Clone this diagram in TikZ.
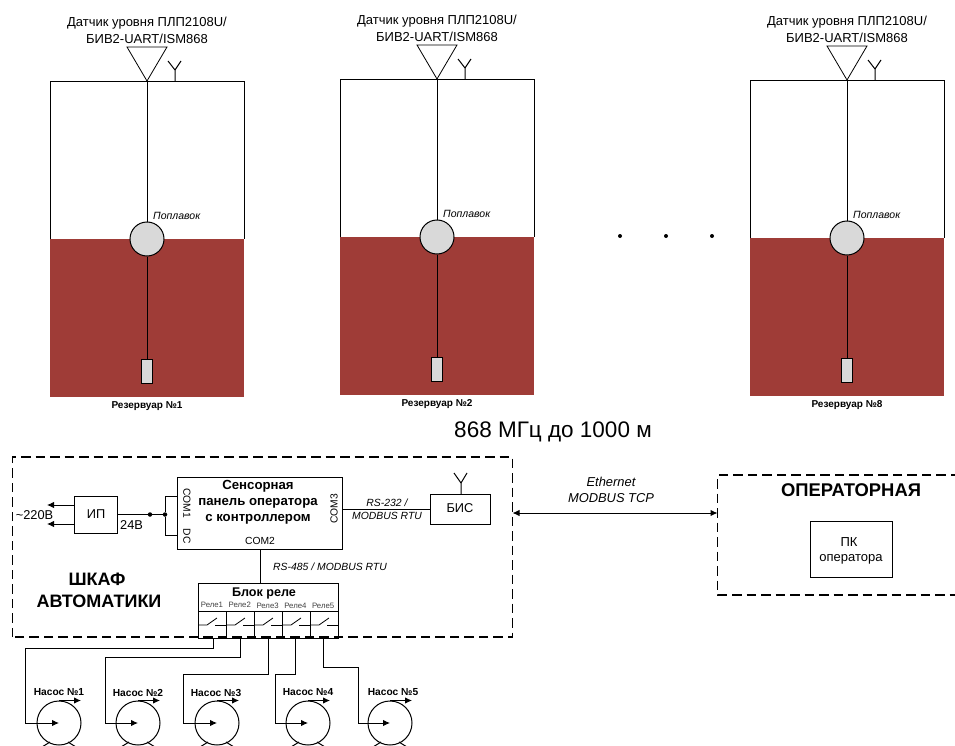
\documentclass[tikz,border=0pt]{standalone}
\usepackage{fontspec}
\setmainfont{Liberation Sans}
\usetikzlibrary{calc,arrows.meta}
\definecolor{liquid}{HTML}{9F3C37}
\definecolor{floatgray}{HTML}{D9D9D9}
\tikzset{
  box/.style={draw, line width=1.2pt, inner sep=0pt, anchor=north west},
  zone/.style={draw, line width=1.2pt, dash pattern=on 9.5pt off 5pt},
  thin wire/.style={line width=0.8pt},
  wire/.style={line width=1pt},
  tip/.style={-{Latex[length=7pt,width=6.5pt]}},
  pump/.style={draw, circle, line width=1pt, minimum size=44pt, inner sep=0pt},
  dot/.style={fill, circle, minimum size=4.5pt, inner sep=0pt},
  lab/.style={font=\fontsize{#1}{#1}\selectfont, inner sep=0pt},
  italab/.style={font=\fontsize{#1}{#1}\selectfont\itshape, inner sep=0pt},
  boldlab/.style={font=\fontsize{#1}{#1}\selectfont\bfseries, inner sep=0pt}
}
\begin{document}
\begin{tikzpicture}[x=1pt,y=-1pt]
  \useasboundingbox (0,0) rectangle (955,746);
  \clip (0,0) rectangle (955,746);
  % Tanks
  \foreach \x/\y/\n in {50/81/1, 340/79/2, 750/80/8} {
    \begin{scope}[shift={(\x,\y)}]
      \fill[liquid] (0,158) rectangle (194,316);
      \draw[thin wire] (0,158) -- (0,0) -- (194,0) -- (194,158);
      \coordinate (top\n) at (97,0);
      \coordinate (tipl\n) at (77,-34);
      \coordinate (tipr\n) at (117,-34);
      \coordinate (ant\n) at (125,0);
      \coordinate (antm\n) at (125,-11);
      \node[draw, circle, fill=floatgray, line width=1pt, minimum size=34pt, inner sep=0pt] (float\n) at (97,158) {};
      \node[draw, fill=floatgray, line width=0.8pt, minimum width=11pt, minimum height=24pt, inner sep=0pt] (probe\n) at (97,290) {};
      \draw[thin wire] (top\n) -- (float\n);
      \draw[wire] (float\n) -- (probe\n);
      \draw[thin wire] (top\n) -- (tipl\n) -- (tipr\n) -- cycle;
      \draw[wire] (ant\n) -- (antm\n) -- ++(-7,-9);
      \draw[wire] (antm\n) -- ++(6,-9);
      \node[lab=13] (sens\n) at (97,-57.5) {Датчик уровня ПЛП2108U/};
      \node[lab=13] (bus\n) at (97,-42.5) {БИВ2-UART/ISM868};
      \node[italab=10.5, anchor=west] (flab\n) at (103,135) {Поплавок};
      \node[boldlab=10] (tank\n) at (97,325) {Резервуар №\n};
    \end{scope}
  }
  % Dots
  \foreach \x in {620,666,712} {
    \node[dot, minimum size=4pt] (more\x) at (\x,236) {};
  }
  \node[lab=22.5] (radio) at (553,431.5) {868 МГц до 1000 м};
  % Zones
  \draw[zone] (12.5,637) -- (12.5,457) -- (512.5,457) -- (512.5,637) -- cycle;
  \draw[zone] (960,475) -- (717.5,475) -- (717.5,595) -- (960,595);
  \node[boldlab=18] (cab1) at (97,579) {ШКАФ};
  \node[boldlab=18] (cab2) at (99,601) {АВТОМАТИКИ};
  \node[boldlab=18.4] (oproom) at (851,490) {ОПЕРАТОРНАЯ};
  % Ethernet
  \coordinate (eth1) at (512.5,513);
  \coordinate (eth2) at (717.5,513);
  \draw[wire, {Latex[length=7pt,width=6.5pt]}-{Latex[length=7pt,width=6.5pt]}] (eth1) -- (eth2);
  \node[italab=12.9] (ethlab1) at (611,482) {Ethernet};
  \node[italab=12.9] (ethlab2) at (611,498) {MODBUS TCP};
  % Boxes
  \node[box, minimum width=82pt, minimum height=56pt] (pc) at (810,521) {};
  \node[lab=13] (pclab1) at (849,542) {ПК};
  \node[lab=13] (pclab2) at (851,559) {оператора};
  \node[box, minimum width=165pt, minimum height=72pt] (panel) at (177,477) {};
  \node[boldlab=13.2] (pan1) at (258,486) {Сенсорная};
  \node[boldlab=13.2] (pan2) at (258,503.5) {панель оператора};
  \node[boldlab=13.2] (pan3) at (258,519.5) {с контроллером};
  \node[lab=10.3, rotate=-90] (com1) at (187,503) {COM1};
  \node[lab=10.3, rotate=-90] (dc) at (187,536) {DC};
  \node[lab=10.3] (com2) at (260,541) {COM2};
  \node[lab=10.3, rotate=90] (com3) at (334,509) {COM3};
  \node[box, minimum width=43pt, minimum height=37pt] (psu) at (74,496) {};
  \node[lab=12.8] (psulab) at (96,514.5) {ИП};
  \node[box, minimum width=60pt, minimum height=30pt] (bis) at (430,494) {};
  \node[lab=12.8] (bislab) at (460,508.5) {БИС};
  % Antenna
  \coordinate (antb) at (461,483);
  \draw[wire] (bis.north -| antb) -- (antb) -- ++(-7,-10);
  \draw[wire] (antb) -- ++(6,-10);
  % Power
  \node[dot] (j1) at (150,514.5) {};
  \node[dot] (j2) at (165,514.5) {};
  \coordinate (c1) at (177,496);
  \coordinate (c2) at (177,535);
  \draw[wire] (psu.east |- j1) -- (j1) -- (j2);
  \draw[thin wire] (c1) -| (j2) |- (c2);
  \coordinate (ac1) at (47,505);
  \coordinate (ac2) at (47,524);
  \draw[wire, tip] (psu.west |- ac1) -- (ac1);
  \draw[wire, tip] (psu.west |- ac2) -- (ac2);
  \node[lab=12.8] (ac) at (34.5,515) {\textasciitilde 220В};
  \node[lab=12.8, anchor=west] (dc24) at (120,525.5) {24В};
  % Serial lines
  \draw[thin wire] (panel.east |- bis.west) -- (bis.west);
  \node[italab=10.4] (rs1) at (387,503) {RS-232 /};
  \node[italab=10.4] (rs2) at (387,516) {MODBUS RTU};
  \node[italab=10.4, anchor=west] (rs3) at (273,567) {RS-485 / MODBUS RTU};
  % Relay block
  \node[box, minimum width=140pt, minimum height=55pt] (relay) at (198,583) {};
  \draw[wire] (198,611) -- (338,611);
  \coordinate (bus) at (260,549);
  \draw[thin wire] (bus) -- (bus |- relay.north);
  \node[boldlab=12.6] (rellab) at (264,593) {Блок реле};
  \foreach \i in {1,...,5} {
    \coordinate (cell\i) at ({198+28*(\i-1)},611);
    \draw[thin wire] (cell\i) -- ++(0,27);
    \draw[thin wire] ($(cell\i)+(0,14)$) -- ++(9,0) -- ++(10,-7);
    \draw[thin wire] ($(cell\i)+(17,14)$) -- ++(11,0);
    \node[lab=7.8, text=black!75] (rel\i) at ({212+27.8*(\i-1)},{605+(\i>2?1:0)}) {Реле\i};
  }
  % Pumps
  \foreach \n/\px/\tx/\wx/\wy/\bx in {1/59/59/213/648/25, 2/138/138/240/657/105, 3/217/216/268/674/183, 4/308/308/295/674/275, 5/390/393/323/667/358} {
    \node[pump] (pump\n) at (\px,723) {};
    \node[boldlab=10.2] (plab\n) at (\tx,692.5) {Насос №\n};
    \coordinate (out\n) at (\wx,638);
    \coordinate (bend\n) at (\bx,\wy);
    \draw[wire, tip] (out\n) |- (bend\n) |- (pump\n.center);
    \draw[wire, tip] (pump\n.north) -- ++(22,0);
    \draw[wire] (\px-9,742) -- ++(-8,5);
    \draw[wire] (\px+9,742) -- ++(8,5);
  }
\end{tikzpicture}
\end{document}
